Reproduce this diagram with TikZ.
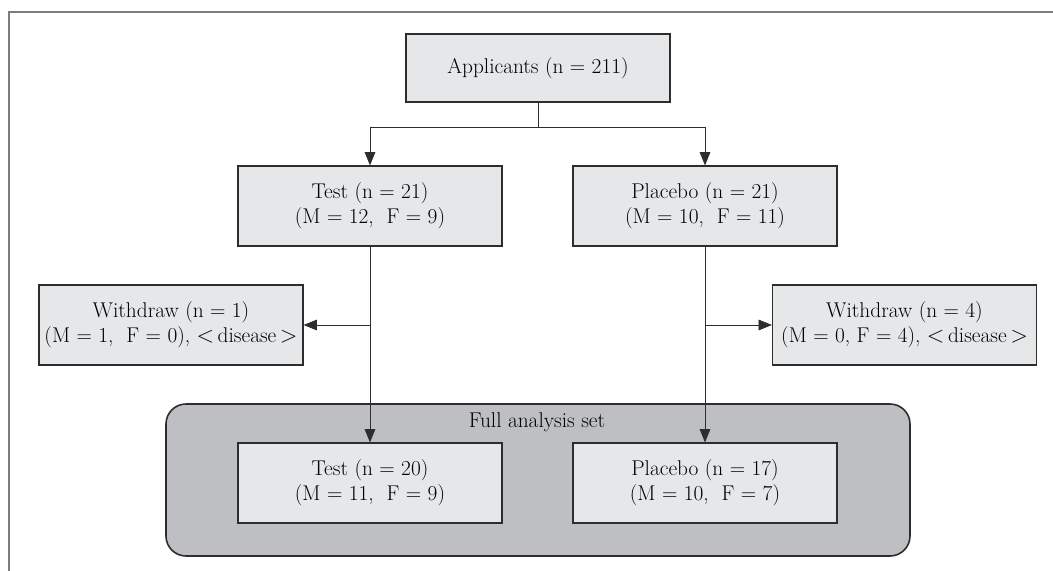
\documentclass[tikz,border=0pt]{standalone}
\usepackage{amsmath}
\usepackage{tikz}
\usepackage{color}
\usetikzlibrary{arrows.meta}
\usetikzlibrary{shapes}

\definecolor{boxfill}{RGB}{230,231,233}
\definecolor{setfill}{RGB}{190,191,194}
\definecolor{linegray}{RGB}{45,45,45}
\definecolor{framegray}{RGB}{125,125,125}

\tikzset{
  flowbox/.style={draw=linegray, line width=0.9pt, fill=boxfill, align=center,
    minimum width=198pt, minimum height=60pt, inner sep=0.75pt,
    font=\fontsize{16}{19}\selectfont},
  flowarrow/.style={draw=linegray, line width=0.6pt, -{Triangle[width=8pt,length=10pt]}},
  flowline/.style={draw=linegray, line width=0.6pt}
}

\begin{document}
\begin{tikzpicture}[x=0.75pt,y=0.75pt,yscale=-1,xscale=1]
\useasboundingbox (0,0) rectangle (1053,571);

%Shape: Frame
\draw [color=framegray, line width=1.5] (9,12) rectangle (1070,590);

%Shape: Rounded set
\draw [color=linegray, fill=setfill, line width=1.2pt, rounded corners=15pt] (166,404) rectangle (910,556);

% Text Node
\node (app) [flowbox, minimum height=51pt] at (538,68) {Applicants (n = 211)};
% Text Node
\node (test) [flowbox] at (370,206) {Test (n = 21)\\(M = 12,\ \ F = 9)};
% Text Node
\node (plc) [flowbox] at (705,206) {Placebo (n = 21)\\(M = 10,\ \ F = 11)};
% Text Node
\node (wl) [flowbox] at (171,325) {Withdraw (n = 1)\\(M = 1,\ \ F = 0), $<$\,disease\,$>$};
% Text Node
\node (wr) [flowbox] at (904.5,325) {Withdraw (n = 4)\\(M = 0, F = 4), $<$\,disease\,$>$};
% Text Node
\node (fas) [font=\fontsize{16}{19}\selectfont, inner sep=0.75pt] at (537,422) {Full analysis set};
% Text Node
\node (test2) [flowbox] at (370,483) {Test (n = 20)\\(M = 11,\ \ F = 9)};
% Text Node
\node (plc2) [flowbox] at (705,483) {Placebo (n = 17)\\(M = 10,\ \ F = 7)};

\coordinate (split) at (538,127);
\draw [flowline] (app) -- (split);
\draw [flowarrow] (split) -| (test);
\draw [flowarrow] (split) -| (plc);

\draw [flowarrow] (test) -- (test2);
\draw [flowarrow] (plc) -- (plc2);
\draw [flowarrow] (test |- wl) -- (wl);
\draw [flowarrow] (plc |- wr) -- (wr);

\end{tikzpicture}
\end{document}
